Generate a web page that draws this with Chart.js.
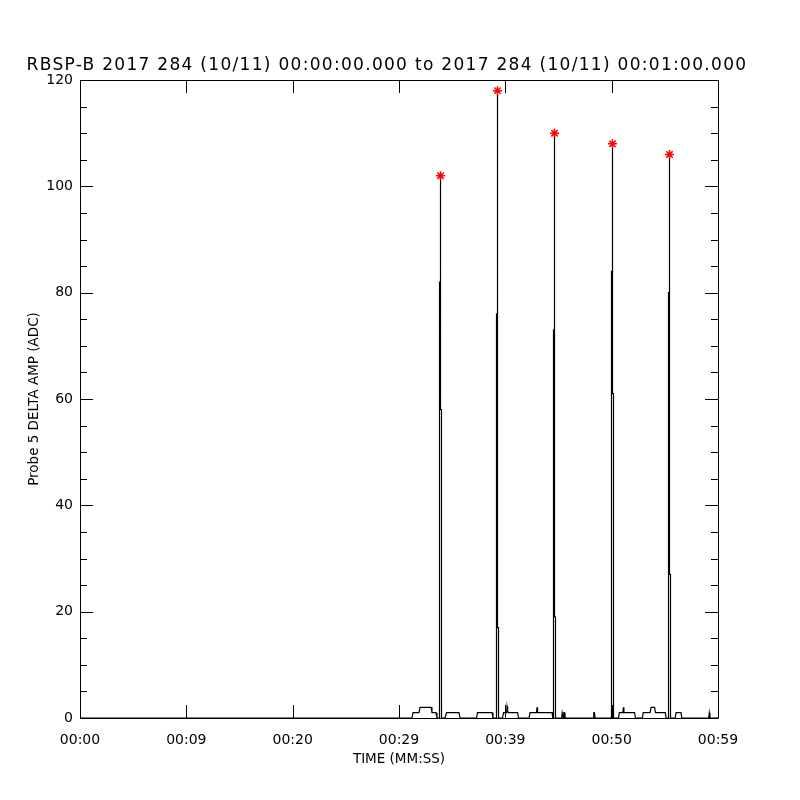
<!DOCTYPE html>
<html><head><meta charset="utf-8">
<script src="https://cdn.jsdelivr.net/npm/chart.js@4.4.0/dist/chart.umd.min.js"></script>
<style>html,body{margin:0;padding:0;background:#fff}</style>
</head><body>
<canvas id="c" width="800" height="800"></canvas>
<script>
const titleText = 'RBSP-B 2017 284 (10/11) 00:00:00.000 to 2017 284 (10/11) 00:01:00.000';
const xAxisTitle = 'TIME (MM:SS)';
const yAxisTitle = 'Probe 5 DELTA AMP (ADC)';

// time in seconds since 00:00:00
const timeSec = [
  0, 31.22, 31.32, 31.88, 31.98, 33.01, 33.10, 33.48, 33.57,
  33.809, 33.809, 33.903, 33.903, 33.903, 33.997, 33.997,
  34.33, 34.47, 35.64, 35.74,
  37.29, 37.38, 38.75, 38.84,
  39.170, 39.170, 39.264, 39.264, 39.264, 39.358, 39.358,
  39.73, 39.83, 40.12, 40.16, 40.22, 40.26, 41.15, 41.24,
  42.23, 42.32, 42.93, 42.98, 43.03, 44.40, 44.46,
  44.530, 44.530, 44.624, 44.624, 44.624, 44.718, 44.718,
  45.30, 45.35, 45.40, 45.45, 45.50, 45.56, 45.61,
  48.25, 48.32, 48.38, 48.44,
  49.984, 49.984, 50.078, 50.078, 50.078, 50.172, 50.172,
  50.64, 50.72, 51.05, 51.10, 51.15, 52.15, 52.24,
  52.88, 52.97, 53.62, 53.70, 54.04, 54.12, 55.04, 55.12,
  55.345, 55.345, 55.439, 55.439, 55.439, 55.533, 55.533,
  55.98, 56.06, 56.52, 56.60,
  59.12, 59.18, 59.24, 60
];
const deltaAmp = [
  0, 0, 1, 1, 2, 2, 1, 1, 0,
  0, 82, 82, 102, 58, 58, 0,
  0, 1, 1, 0,
  0, 1, 1, 0,
  0, 76, 76, 118, 17, 17, 0,
  0, 1, 1, 2.2, 1.4, 1, 1, 0,
  0, 1, 1, 2, 1, 1, 0,
  0, 73, 73, 110, 19, 19, 0,
  0, 1, 1, 0, 1, 1, 0,
  0, 1, 1, 0,
  0, 84, 84, 108, 61, 61, 0,
  0, 1, 1, 2, 1, 1, 0,
  0, 1, 1, 2, 2, 1, 1, 0,
  0, 80, 80, 106, 27, 27, 0,
  0, 1, 1, 0,
  0, 1, 0, 0
];
const peakTime = [33.903, 39.264, 44.624, 50.078, 55.439];
const peakAmp = [102, 118, 110, 108, 106];

const xTickValues = [0, 10, 20, 30, 40, 50, 60];
const xTickLabels = ['00:00', '00:09', '00:20', '00:29', '00:39', '00:50', '00:59'];
const yTickValues = [0, 20, 40, 60, 80, 100, 120];
const yMinorStep = 5;

const lineData = timeSec.map((t, i) => ({x: t, y: deltaAmp[i]}));
const peakData = peakTime.map((t, i) => ({x: t, y: peakAmp[i]}));

const framePlugin = {
  id: 'idlFrame',
  afterDraw(chart) {
    const {ctx, chartArea: a, scales: {x, y}} = chart;
    ctx.save();
    ctx.strokeStyle = '#000';
    ctx.lineWidth = 1;
    ctx.beginPath();
    ctx.rect(Math.round(a.left) + 0.5, Math.round(a.top) + 0.5, Math.round(a.right - a.left), Math.round(a.bottom - a.top));
    ctx.stroke();
    ctx.beginPath();
    const yMin = yTickValues[0], yMax = yTickValues[yTickValues.length - 1];
    for (let v = yMin; v <= yMax; v += yMinorStep) {
      const py = Math.round(y.getPixelForValue(v)) + 0.5;
      const len = yTickValues.includes(v) ? 13 : 7;
      ctx.moveTo(a.left, py); ctx.lineTo(a.left + len, py);
      ctx.moveTo(a.right, py); ctx.lineTo(a.right - len, py);
    }
    xTickValues.forEach(v => {
      const px = Math.round(x.getPixelForValue(v)) + 0.5;
      ctx.moveTo(px, a.bottom); ctx.lineTo(px, a.bottom - 13);
      ctx.moveTo(px, a.top); ctx.lineTo(px, a.top + 13);
    });
    ctx.stroke();
    // title
    ctx.fillStyle = '#000';
    ctx.font = '17px "DejaVu Sans"';
    try { ctx.letterSpacing = '1.3px'; } catch (e) {}
    ctx.textAlign = 'center';
    ctx.textBaseline = 'middle';
    ctx.fillText(titleText, 387, 66);
    ctx.restore();
  }
};

new Chart(document.getElementById('c'), {
  type: 'line',
  data: {
    datasets: [
      {
        data: lineData,
        borderColor: '#000',
        borderWidth: 1.2,
        pointRadius: 0,
        tension: 0,
        fill: false,
        order: 2
      },
      {
        data: peakData,
        showLine: false,
        pointStyle: 'star',
        pointRadius: 4.5,
        pointBorderColor: '#ff0000',
        pointBackgroundColor: '#ff0000',
        pointBorderWidth: 1.5,
        order: 1
      }
    ]
  },
  options: {
    responsive: false,
    animation: false,
    devicePixelRatio: 1,
    layout: {padding: {top: 80, right: 82, bottom: 0, left: 0}},
    plugins: {legend: {display: false}, tooltip: {enabled: false}, title: {display: false}},
    scales: {
      x: {
        type: 'linear',
        min: 0, max: 60,
        grid: {display: false, drawTicks: false},
        border: {display: false},
        afterFit(s) { s.height = 82; },
        ticks: {
          stepSize: 10,
          autoSkip: false,
          maxRotation: 0,
          padding: 14,
          color: '#000',
          font: {family: 'DejaVu Sans', size: 14},
          callback: v => { const i = xTickValues.indexOf(v); return i >= 0 ? xTickLabels[i] : ''; }
        },
        title: {
          display: true,
          text: xAxisTitle,
          color: '#000',
          font: {family: 'DejaVu Sans', size: 13.5},
          padding: {top: 0, bottom: 32}
        }
      },
      y: {
        min: 0, max: 120,
        grid: {display: false, drawTicks: false},
        border: {display: false},
        afterFit(s) { s.width = 80; },
        ticks: {
          stepSize: 20,
          padding: 7,
          color: '#000',
          font: {family: 'DejaVu Sans', size: 14}
        },
        title: {
          display: true,
          text: yAxisTitle,
          color: '#000',
          font: {family: 'DejaVu Sans', size: 13.5},
          padding: {top: 26, bottom: 0}
        }
      }
    }
  },
  plugins: [framePlugin]
});
</script>
</body></html>
